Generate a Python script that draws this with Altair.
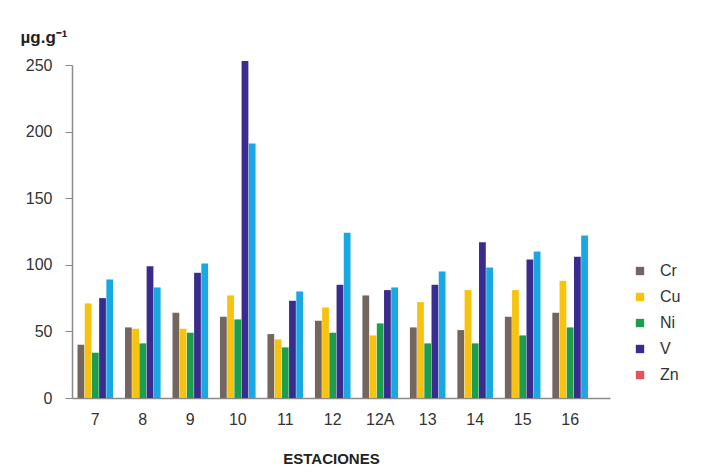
import altair as alt
import pandas as pd

stations = ["7", "8", "9", "10", "11", "12", "12A", "13", "14", "15", "16"]
metals = ["Cr", "Cu", "Ni", "V", "Zn"]
cr = [40, 53, 64, 61, 48, 58, 77, 53, 51, 61, 64]
cu = [71, 52, 52, 77, 44, 68, 47, 72, 81, 81, 88]
ni = [34, 41, 49, 59, 38, 49, 56, 41, 41, 47, 53]
v = [75, 99, 94, 253, 73, 85, 81, 85, 117, 104, 106]
zn = [89, 83, 101, 191, 80, 124, 83, 95, 98, 110, 122]

bar_colors = ["#74655f", "#f7c30e", "#1c9e4c", "#3a2b8e", "#1aa8e2"]
legend_colors = ["#74655f", "#f7c30e", "#1c9e4c", "#3a2b8e", "#e9505e"]

series = {"Cr": cr, "Cu": cu, "Ni": ni, "V": v, "Zn": zn}
rows = []
for m in metals:
    for s, val in zip(stations, series[m]):
        rows.append({"station": s, "metal": m, "value": val})
df = pd.DataFrame(rows)

x_enc = alt.X(
    "station:N",
    sort=stations,
    scale=alt.Scale(paddingInner=0.25, paddingOuter=0.29, align=0.2),
    axis=alt.Axis(
        title="ESTACIONES",
        labelAngle=0,
        ticks=False,
        domainColor="#8a8a8a",
        domainWidth=1.5,
        labelFontSize=16,
        labelColor="#333333",
        labelPadding=13,
        titleFontSize=15,
        titleFontWeight="bold",
        titleColor="#222222",
        titleX=259,
        titleY=65,
        titleAlign="center",
        titleBaseline="alphabetic",
    ),
)
y_enc = alt.Y(
    "value:Q",
    scale=alt.Scale(domain=[0, 250], nice=False),
    axis=alt.Axis(
        values=[0, 50, 100, 150, 200, 250],
        grid=False,
        domainColor="#8a8a8a",
        domainWidth=1.5,
        tickColor="#8a8a8a",
        tickSize=7,
        labelFontSize=16,
        labelColor="#333333",
        labelPadding=13,
        title="µg.g⁻¹",
        titleAngle=0,
        titleX=-52,
        titleY=-23,
        titleAlign="left",
        titleBaseline="alphabetic",
        titleFontSize=17,
        titleFontWeight="bold",
        titleColor="#222222",
    ),
)

bars = alt.Chart(df).mark_bar().encode(
    x=x_enc,
    xOffset=alt.XOffset("metal:N", sort=metals, scale=alt.Scale(paddingInner=0.06)),
    y=y_enc,
    color=alt.Color("metal:N", sort=metals,
                    scale=alt.Scale(domain=metals, range=bar_colors), legend=None),
)

leg = alt.Chart(df).mark_square(opacity=0, size=1).encode(
    x=alt.X("station:N", sort=stations),
    y=alt.Y("value:Q"),
    color=alt.Color(
        "metal:N", sort=metals,
        scale=alt.Scale(domain=metals, range=legend_colors),
        legend=alt.Legend(
            title=None,
            orient="none",
            legendX=560,
            legendY=198,
            symbolType="square",
            symbolSize=70,
            symbolOpacity=1,
            symbolStrokeWidth=0,
            labelFontSize=16,
            labelColor="#333333",
            labelOffset=12,
            rowPadding=10,
        ),
    ),
)

chart = (
    alt.layer(bars, leg)
    .resolve_scale(color="independent")
    .properties(
        width=538,
        height=333,
        autosize=alt.AutoSizeParams(type="none"),
        padding={"left": 64, "top": 57, "right": 90, "bottom": 69},
    )
    .configure(font="Liberation Sans")
    .configure_view(stroke=None)
)

chart.save("out.html", embed_options={"renderer": "svg", "actions": False})
